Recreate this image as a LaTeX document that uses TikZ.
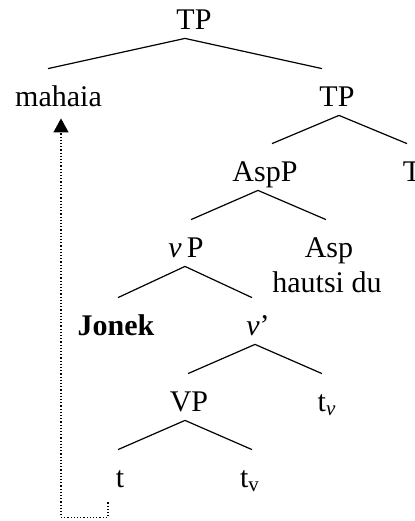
\documentclass[tikz,border=0pt]{standalone}
\usepackage{fontspec}
\setmainfont{Liberation Serif}
\usetikzlibrary{arrows.meta}
\tikzset{cat/.style={anchor=base, inner sep=0pt, text height=18.5pt, text depth=4.5pt, font=\fontsize{15}{18}\selectfont},
  branch/.style={line width=0.6pt},
  mv/.style={line width=0.6pt, densely dotted, -{Triangle[length=7pt,width=7.5pt]}}}

\begin{document}
\begin{tikzpicture}[x=0.5pt, y=-0.5pt]
    \useasboundingbox (0,0) rectangle (414,521);
    \node[cat] (TP) at (194,29) {TP};
    \node[cat] (mahaia) at (58.5,106) {mahaia};
    \node[cat] (TP2) at (337,106) {TP};
    \node[cat] (AspP) at (265,181) {AspP};
    \node[cat] (T) at (412,181) {T};
    \node[cat] (vP) at (186,257) {\textit{v}\,P};
    \node[cat] (Asp) at (329,257) {Asp};
    \node[cat] (hautsi) at (327,292) {hautsi du};
    \node[cat] (Jonek) at (116,335) {\textbf{Jonek}};
    \node[cat] (v1) at (258,335) {\textit{v}’};
    \node[cat] (VP) at (189,411) {VP};
    \node[cat] (tv1) at (327,411) {t\textsubscript{\textit{v}}};
    \node[cat] (t) at (120,487) {t};
    \node[cat] (tv2) at (250,487) {t\textsubscript{v}};
    % branches
    \path[branch] ([xshift=-4.5pt]TP.south) edge ([xshift=-5.25pt]mahaia.north) edge ([xshift=-7.5pt]TP2.north);
    \path[branch] ([xshift=1pt]TP2.south) edge ([xshift=3.5pt]AspP.north) edge ([xshift=-2.5pt]T.north);
    \path[branch] ([xshift=-3.5pt]AspP.south) edge ([xshift=2.5pt]vP.north) edge ([xshift=-1.5pt]Asp.north);
    \path[branch] ([xshift=-0.5pt]vP.south) edge ([xshift=1pt]Jonek.north) edge ([xshift=-3pt]v1.north);
    \path[branch] ([xshift=-1.5pt]v1.south) edge ([xshift=-0.5pt]VP.north) edge ([xshift=-2.5pt]tv1.north);
    \path[branch] ([xshift=-2pt]VP.south) edge ([xshift=-1pt]t.north) edge ([xshift=1pt]tv2.north);
    % movement
    \draw[mv] ([xshift=-6pt,yshift=-3pt]t.south) -- ++(0,15) -| ([xshift=1.25pt,yshift=-1.5pt]mahaia.south);
\end{tikzpicture}
\end{document}
